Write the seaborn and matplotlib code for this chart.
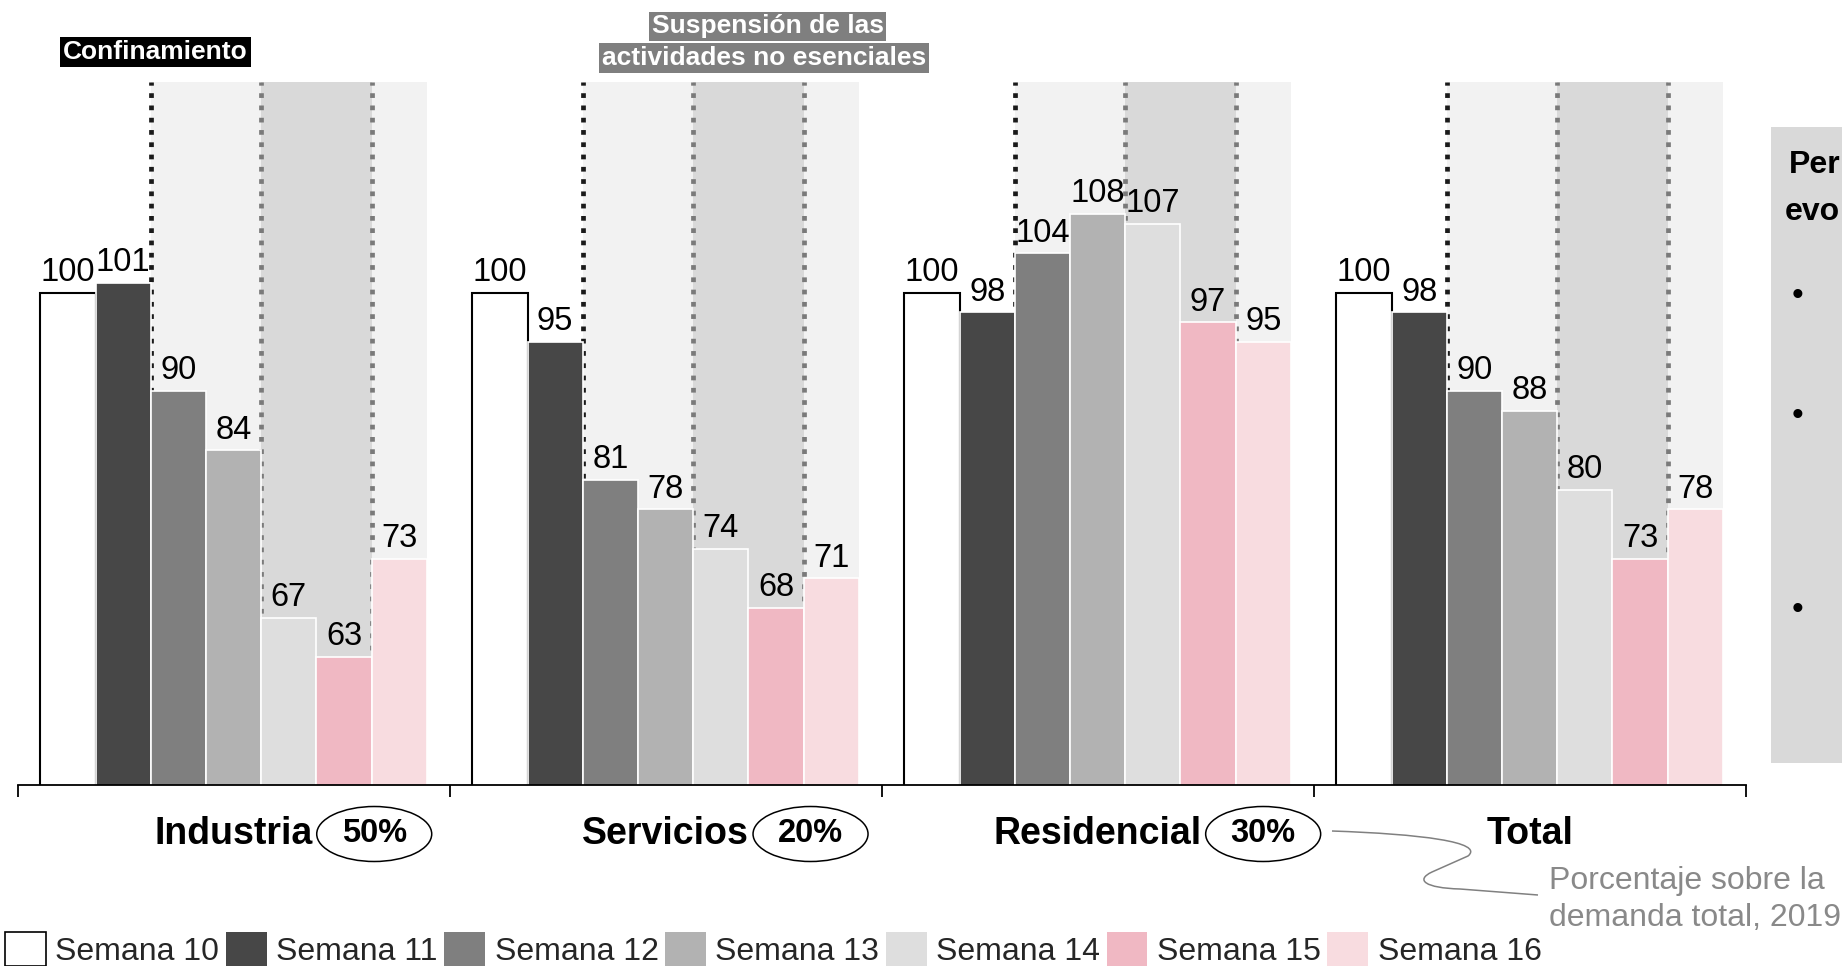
import numpy as np
import pandas as pd
import matplotlib
matplotlib.use('Agg')
import matplotlib.pyplot as plt
import matplotlib.transforms as mtransforms
from matplotlib.patches import Ellipse, Rectangle, Patch, PathPatch
from matplotlib.path import Path
import seaborn as sns

# ---------------- data ----------------
sectores = ['Industria', 'Servicios', 'Residencial', 'Total']
semanas = ['Semana 10', 'Semana 11', 'Semana 12', 'Semana 13',
           'Semana 14', 'Semana 15', 'Semana 16']
industria = [100, 101, 90, 84, 67, 63, 73]
servicios = [100, 95, 81, 78, 74, 68, 71]
residencial = [100, 98, 104, 108, 107, 97, 95]
total = [100, 98, 90, 88, 80, 73, 78]
pesos = ['50%', '20%', '30%', None]
colores = ['#ffffff', '#474747', '#7f7f7f', '#b2b2b2', '#dedede', '#f0b8c3', '#f8dce0']

# ---------------- figure ----------------
W, H = 1842, 966
sns.set_theme(style='white')
plt.rcParams['font.family'] = ['Liberation Sans', 'DejaVu Sans']

fig = plt.figure(figsize=(W / 100, H / 100), dpi=100)
fig.patch.set_facecolor('white')


def fx(px):
    return px / W


def fy(py):
    return 1 - py / H


ax = fig.add_axes([fx(17.6), fy(785), fx(1745.6) - fx(17.6), fy(82) - fy(785)])
ax.set_facecolor('none')

df = pd.DataFrame({
    'sector': np.repeat(sectores, len(semanas)),
    'semana': semanas * len(sectores),
    'valor': industria + servicios + residencial + total,
})

sns.barplot(data=df, x='sector', y='valor', hue='semana', order=sectores,
            hue_order=semanas, palette=colores, saturation=1, width=0.895,
            edgecolor='white', linewidth=1.2, errorbar=None, legend=False,
            ax=ax, zorder=2)

ax.set_xlim(-0.5, 3.5)
ax.set_ylim(50, 121.4)

# first week bars: white with black outline
for bar in ax.containers[0]:
    bar.set_edgecolor('black')
    bar.set_linewidth(1.5)

# shaded periods and dotted markers
for i in range(len(sectores)):
    b2 = ax.containers[2][i]
    b4 = ax.containers[4][i]
    b6 = ax.containers[6][i]
    x_conf = b2.get_x()
    x_s1 = b4.get_x()
    x_s2 = b6.get_x()
    x_end = b6.get_x() + b6.get_width()
    ax.axvspan(x_conf, x_end, color='#f2f2f2', lw=0, zorder=0)
    ax.axvspan(x_s1, x_s2, color='#d9d9d9', lw=0, zorder=0.1)
    ax.axvline(x_conf, color='#1a1a1a', lw=3.4, ls=(0, (1, 1.6)),
               dash_capstyle='butt', zorder=0.5)
    for xv in (x_s1, x_s2):
        ax.axvline(xv, color='#7a7a7a', lw=3.4, ls=(0, (1, 1.6)),
                   dash_capstyle='butt', zorder=0.5)

# value labels
for cont in ax.containers:
    ax.bar_label(cont, fmt='{:.0f}', padding=3.4, fontsize=23.5, color='black', zorder=3)

# axes styling
for s in ('top', 'left', 'right'):
    ax.spines[s].set_visible(False)
ax.spines['bottom'].set_color('black')
ax.spines['bottom'].set_linewidth(1.3)
ax.set_xticks([-0.5, 0.5, 1.5, 2.5, 3.5])
ax.set_xticklabels([])
ax.set_yticks([])
ax.tick_params(axis='x', direction='out', length=8.5, width=1.3, color='black', bottom=True)
ax.set_xlabel('')
ax.set_ylabel('')

# category labels + share ellipses
trans = mtransforms.blended_transform_factory(ax.transData, fig.transFigure)
cat_texts = []
for i, s in enumerate(sectores):
    t = ax.text(i, fy(834.5), s, transform=trans, ha='center', va='center',
                fontsize=27, fontweight='bold', color='black')
    cat_texts.append(t)

fig.canvas.draw()
renderer = fig.canvas.get_renderer()
ell_w, ell_h = 115, 55
for t, p in zip(cat_texts, pesos):
    if p is None:
        continue
    bb = t.get_window_extent(renderer)
    cx = bb.x1 + 4 + ell_w / 2
    cy_px = 834
    fig.add_artist(Ellipse((cx / W, fy(cy_px)), ell_w / W, ell_h / H,
                           transform=fig.transFigure, facecolor='white',
                           edgecolor='black', lw=1.1))
    fig.text(cx / W, fy(cy_px), p, ha='center', va='center', fontsize=23.5,
             fontweight='bold', color='black')

# event labels at top
box_kw = dict(boxstyle='square,pad=0.1', edgecolor='none')
fig.text(fx(155.5), fy(52), 'Confinamiento', ha='center', va='center',
         fontsize=19, fontweight='bold', color='white',
         bbox=dict(facecolor='black', **box_kw))
fig.text(fx(767.5), fy(26.5), 'Suspensión de las', ha='center', va='center',
         fontsize=19, fontweight='bold', color='white',
         bbox=dict(facecolor='#7f7f7f', **box_kw))
fig.text(fx(764), fy(58), 'actividades no esenciales', ha='center', va='center',
         fontsize=19, fontweight='bold', color='white',
         bbox=dict(facecolor='#7f7f7f', **box_kw))

# connector + note
verts_px = [(1332, 831), (1420, 834), (1485, 842), (1468, 856), (1432, 872),
            (1415, 880), (1425, 888), (1460, 889), (1538, 895)]
codes = [Path.MOVETO, Path.CURVE4, Path.CURVE4, Path.CURVE4, Path.LINETO,
         Path.CURVE4, Path.CURVE4, Path.CURVE4, Path.LINETO]
verts = [(fx(x), fy(y)) for x, y in verts_px]
fig.add_artist(PathPatch(Path(verts, codes), fill=False, edgecolor='#808080',
                         lw=1.1, transform=fig.transFigure))
fig.text(fx(1549), fy(889), 'Porcentaje sobre la', ha='left', va='baseline',
         fontsize=23, color='#898989')
fig.text(fx(1549), fy(926), 'demanda total, 2019', ha='left', va='baseline',
         fontsize=23, color='#898989')

# right side panel (cut off by the figure edge in the original)
fig.add_artist(Rectangle((fx(1771), fy(763)), 1 - fx(1771), fy(127) - fy(763),
                         transform=fig.transFigure, facecolor='#d9d9d9',
                         edgecolor='none', zorder=0))
fig.text(fx(1789), fy(173), 'Per', ha='left', va='baseline',
         fontsize=23, fontweight='bold', color='black')
fig.text(fx(1785), fy(220), 'evo', ha='left', va='baseline',
         fontsize=23, fontweight='bold', color='black')
for yb in (297, 417, 611):
    fig.text(fx(1797), fy(yb), '•', ha='center', va='center', fontsize=24, color='black')

# legend
handles = []
for i, c in enumerate(colores):
    handles.append(Patch(facecolor=c, edgecolor='black' if i == 0 else c,
                         linewidth=1.2 if i == 0 else 0))
fig.legend(handles, semanas, loc='upper left', bbox_to_anchor=(fx(5), fy(932)),
           ncol=7, frameon=False, fontsize=23, handlelength=1.28, handleheight=1.28,
           handletextpad=0.3, columnspacing=0.2, borderpad=0, borderaxespad=0)

fig.savefig('out.png', dpi=100)
